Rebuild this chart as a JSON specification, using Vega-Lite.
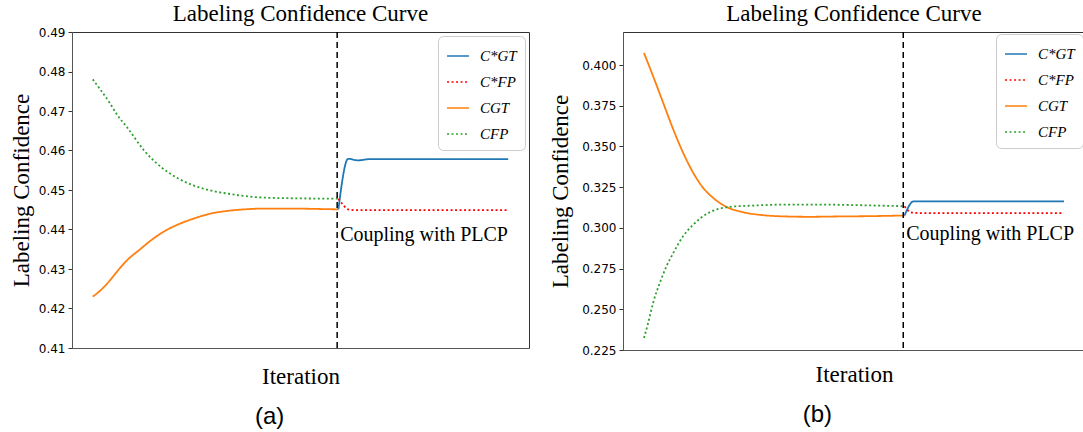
{
  "$schema": "https://vega.github.io/schema/vega-lite/v6.json",
  "padding": {"left": 9, "top": 2, "right": 0, "bottom": 0},
  "datasets": {
    "a": [
      {"series": "CGT", "it": 0, "v": 0.4230},
      {"series": "CGT", "it": 3, "v": 0.4245},
      {"series": "CGT", "it": 7, "v": 0.4271},
      {"series": "CGT", "it": 10, "v": 0.4294},
      {"series": "CGT", "it": 14, "v": 0.4322},
      {"series": "CGT", "it": 19, "v": 0.4348},
      {"series": "CGT", "it": 25, "v": 0.4378},
      {"series": "CGT", "it": 30, "v": 0.4398},
      {"series": "CGT", "it": 35, "v": 0.4413},
      {"series": "CGT", "it": 41, "v": 0.4427},
      {"series": "CGT", "it": 48, "v": 0.4440},
      {"series": "CGT", "it": 55, "v": 0.4447},
      {"series": "CGT", "it": 62, "v": 0.4451},
      {"series": "CGT", "it": 70, "v": 0.4453},
      {"series": "CGT", "it": 82, "v": 0.4453},
      {"series": "CGT", "it": 92, "v": 0.4452},
      {"series": "CGT", "it": 100.5, "v": 0.4451},
      {"series": "CFP", "it": 0, "v": 0.4780},
      {"series": "CFP", "it": 3, "v": 0.4755},
      {"series": "CFP", "it": 7, "v": 0.4720},
      {"series": "CFP", "it": 10, "v": 0.4690},
      {"series": "CFP", "it": 14, "v": 0.4659},
      {"series": "CFP", "it": 21, "v": 0.4600},
      {"series": "CFP", "it": 28, "v": 0.4558},
      {"series": "CFP", "it": 35, "v": 0.4529},
      {"series": "CFP", "it": 41, "v": 0.4512},
      {"series": "CFP", "it": 48, "v": 0.4499},
      {"series": "CFP", "it": 55, "v": 0.4491},
      {"series": "CFP", "it": 62, "v": 0.4485},
      {"series": "CFP", "it": 69, "v": 0.4481},
      {"series": "CFP", "it": 82, "v": 0.4479},
      {"series": "CFP", "it": 100.5, "v": 0.4478},
      {"series": "C*GT", "it": 100.5, "v": 0.4451},
      {"series": "C*GT", "it": 104.5, "v": 0.4579},
      {"series": "C*GT", "it": 108.5, "v": 0.4575},
      {"series": "C*GT", "it": 113, "v": 0.4578},
      {"series": "C*GT", "it": 120, "v": 0.4578},
      {"series": "C*GT", "it": 140, "v": 0.4578},
      {"series": "C*GT", "it": 170, "v": 0.4578},
      {"series": "C*FP", "it": 100.5, "v": 0.4478},
      {"series": "C*FP", "it": 102.5, "v": 0.4462},
      {"series": "C*FP", "it": 104.5, "v": 0.4451},
      {"series": "C*FP", "it": 108, "v": 0.4449},
      {"series": "C*FP", "it": 120, "v": 0.4449},
      {"series": "C*FP", "it": 170, "v": 0.4449}
    ],
    "b": [
      {"series": "CGT", "it": 0, "v": 0.4074},
      {"series": "CGT", "it": 3.5, "v": 0.3932},
      {"series": "CGT", "it": 7.4, "v": 0.3768},
      {"series": "CGT", "it": 11.3, "v": 0.3604},
      {"series": "CGT", "it": 15.1, "v": 0.3461},
      {"series": "CGT", "it": 19, "v": 0.3338},
      {"series": "CGT", "it": 22.8, "v": 0.3246},
      {"series": "CGT", "it": 26.7, "v": 0.3184},
      {"series": "CGT", "it": 31.8, "v": 0.3129},
      {"series": "CGT", "it": 38.3, "v": 0.3096},
      {"series": "CGT", "it": 46, "v": 0.3078},
      {"series": "CGT", "it": 55, "v": 0.3070},
      {"series": "CGT", "it": 64, "v": 0.3068},
      {"series": "CGT", "it": 74, "v": 0.3070},
      {"series": "CGT", "it": 87, "v": 0.3072},
      {"series": "CGT", "it": 100.5, "v": 0.3076},
      {"series": "CFP", "it": 0, "v": 0.2324},
      {"series": "CFP", "it": 1.6, "v": 0.2416},
      {"series": "CFP", "it": 3.5, "v": 0.2539},
      {"series": "CFP", "it": 6.1, "v": 0.2662},
      {"series": "CFP", "it": 8.7, "v": 0.2765},
      {"series": "CFP", "it": 11.3, "v": 0.2846},
      {"series": "CFP", "it": 15.1, "v": 0.2949},
      {"series": "CFP", "it": 19, "v": 0.3020},
      {"series": "CFP", "it": 22.8, "v": 0.3072},
      {"series": "CFP", "it": 28, "v": 0.3113},
      {"series": "CFP", "it": 33.1, "v": 0.3129},
      {"series": "CFP", "it": 42, "v": 0.3137},
      {"series": "CFP", "it": 55, "v": 0.3143},
      {"series": "CFP", "it": 68, "v": 0.3143},
      {"series": "CFP", "it": 81, "v": 0.3140},
      {"series": "CFP", "it": 100.5, "v": 0.3133},
      {"series": "C*GT", "it": 100.5, "v": 0.3076},
      {"series": "C*GT", "it": 104, "v": 0.3163},
      {"series": "C*GT", "it": 130, "v": 0.3163},
      {"series": "C*GT", "it": 162, "v": 0.3163},
      {"series": "C*FP", "it": 100.5, "v": 0.3133},
      {"series": "C*FP", "it": 103, "v": 0.3095},
      {"series": "C*FP", "it": 106, "v": 0.3091},
      {"series": "C*FP", "it": 162, "v": 0.3091}
    ]
  },
  "hconcat": [
    {
      "title": {"text": "(a)", "orient": "bottom", "font": "Liberation Sans", "fontSize": 24, "fontWeight": "normal", "offset": 16, "anchor": "middle"},
      "resolve": {"scale": {"color": "independent", "strokeDash": "independent"}, "legend": {"color": "independent", "strokeDash": "independent"}},
      "hconcat": [
        {
          "width": 457,
          "height": 316,
          "title": {"text": "Labeling Confidence Curve", "offset": 0},
          "data": {"name": "a"},
          "layer": [
            {
              "mark": {"type": "line", "strokeWidth": 1.8, "interpolate": "monotone", "strokeCap": "butt"},
              "encoding": {
                "x": {"field": "it", "type": "quantitative", "scale": {"domain": [-8.5, 178.5], "nice": false, "zero": false}, "axis": {"title": "Iteration", "labels": false, "ticks": false, "titlePadding": 17}},
                "y": {"field": "v", "type": "quantitative", "scale": {"domain": [0.41, 0.49], "nice": false, "zero": false}, "axis": {"title": "Labeling Confidence", "values": [0.41, 0.42, 0.43, 0.44, 0.45, 0.46, 0.47, 0.48, 0.49], "tickCount": 20, "format": ".2f", "titlePadding": 5, "labelOverlap": false, "labelSeparation": 0}},
                "color": {"field": "series", "type": "nominal", "scale": {"domain": ["C*GT", "C*FP", "CGT", "CFP"], "range": ["#1f77b4", "#ff0000", "#ff7f0e", "#2ca02c"]},
                  "legend": {"title": null, "orient": "top-right", "offset": 4, "fillColor": "white", "strokeColor": "#cccccc", "cornerRadius": 5, "padding": 8, "rowPadding": 6, "symbolType": "stroke", "symbolSize": 480, "symbolStrokeWidth": 1.5, "labelFont": "Liberation Serif", "labelFontStyle": "italic", "labelFontSize": 15, "labelOffset": 10, "labelColor": "black",
                    "encode": {"symbols": {"update": {"strokeDash": {"signal": "datum.value === 'C*FP' ? [2, 2.5] : [1, 0]"}}}}}},
                "strokeDash": {"field": "series", "type": "nominal", "scale": {"domain": ["C*GT", "C*FP", "CGT", "CFP"], "range": [[1, 0], [2, 2.5], [1, 0], [2, 2.5]]}, "legend": null}
              }
            },
            {
              "data": {"values": [{}]},
              "mark": {"type": "rule", "strokeDash": [6, 4], "color": "black", "strokeWidth": 1.5},
              "encoding": {"x": {"datum": 100}}
            },
            {
              "data": {"values": [{}]},
              "mark": {"type": "text", "text": "Coupling with PLCP", "align": "left", "baseline": "middle", "font": "Liberation Serif", "fontSize": 20, "dx": 3, "color": "black"},
              "encoding": {"x": {"datum": 100}, "y": {"datum": 0.4387}}
            }
          ]
        }
      ]
    },
    {
      "title": {"text": "(b)", "orient": "bottom", "font": "Liberation Sans", "fontSize": 24, "fontWeight": "normal", "offset": 16, "anchor": "middle"},
      "resolve": {"scale": {"color": "independent", "strokeDash": "independent"}, "legend": {"color": "independent", "strokeDash": "independent"}},
      "hconcat": [
        {
          "width": 462,
          "height": 318,
          "title": {"text": "Labeling Confidence Curve", "offset": 5.5},
          "data": {"name": "b"},
          "layer": [
            {
              "mark": {"type": "line", "strokeWidth": 1.8, "interpolate": "monotone", "strokeCap": "butt"},
              "encoding": {
                "x": {"field": "it", "type": "quantitative", "scale": {"domain": [-8.1, 170.1], "nice": false, "zero": false}, "axis": {"title": "Iteration", "labels": false, "ticks": false, "titlePadding": 13}},
                "y": {"field": "v", "type": "quantitative", "scale": {"domain": [0.225, 0.4203], "nice": false, "zero": false}, "axis": {"title": "Labeling Confidence", "values": [0.225, 0.25, 0.275, 0.3, 0.325, 0.35, 0.375, 0.4], "tickCount": 20, "format": ".3f", "titlePadding": 9, "labelOverlap": false}},
                "color": {"field": "series", "type": "nominal", "scale": {"domain": ["C*GT", "C*FP", "CGT", "CFP"], "range": ["#1f77b4", "#ff0000", "#ff7f0e", "#2ca02c"]},
                  "legend": {"title": null, "orient": "top-right", "offset": 2, "fillColor": "white", "strokeColor": "#cccccc", "cornerRadius": 5, "padding": 8, "rowPadding": 6, "symbolType": "stroke", "symbolSize": 480, "symbolStrokeWidth": 1.5, "labelFont": "Liberation Serif", "labelFontStyle": "italic", "labelFontSize": 15, "labelOffset": 10, "labelColor": "black",
                    "encode": {"symbols": {"update": {"strokeDash": {"signal": "datum.value === 'C*FP' ? [2, 2.5] : [1, 0]"}}}}}},
                "strokeDash": {"field": "series", "type": "nominal", "scale": {"domain": ["C*GT", "C*FP", "CGT", "CFP"], "range": [[1, 0], [2, 2.5], [1, 0], [2, 2.5]]}, "legend": null}
              }
            },
            {
              "data": {"values": [{}]},
              "mark": {"type": "rule", "strokeDash": [6, 4], "color": "black", "strokeWidth": 1.5},
              "encoding": {"x": {"datum": 100}}
            },
            {
              "data": {"values": [{}]},
              "mark": {"type": "text", "text": "Coupling with PLCP", "align": "left", "baseline": "middle", "font": "Liberation Serif", "fontSize": 20, "dx": 3, "color": "black"},
              "encoding": {"x": {"datum": 100}, "y": {"datum": 0.2963}}
            }
          ]
        }
      ]
    }
  ],
  "spacing": 19,
  "resolve": {"scale": {"color": "independent", "strokeDash": "independent"}, "legend": {"color": "independent", "strokeDash": "independent"}},
  "config": {
    "view": {"stroke": "#333333", "strokeWidth": 1},
    "title": {"font": "Liberation Serif", "fontSize": 23, "fontWeight": "normal", "color": "black"},
    "axis": {"labelFont": "DejaVu Sans", "labelFontSize": 12, "labelColor": "black", "tickColor": "#333333", "domainColor": "#555555", "titleFont": "Liberation Serif", "titleFontSize": 23, "titleFontWeight": "normal", "titleColor": "black", "grid": false, "tickSize": 4, "labelPadding": 3, "labelOverlap": false}
  }
}
